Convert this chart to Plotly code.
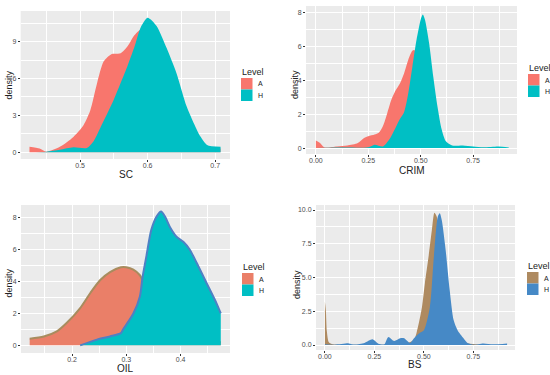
import plotly.graph_objects as go

# ---------------- data ----------------
levels = ["A", "H"]

sc_a_x = [0.425, 0.44, 0.45, 0.47, 0.49, 0.505, 0.515, 0.525, 0.535, 0.547, 0.56, 0.57, 0.58, 0.587, 0.6, 0.62, 0.64, 0.66, 0.68, 0.7, 0.708]
sc_a_y = [0.45, 0.3, 0.05, 0.45, 1.25, 2.2, 3.4, 5.6, 7.4, 8.0, 8.05, 8.6, 9.5, 9.9, 10.2, 9.0, 5.5, 2.5, 0.8, 0.3, 0.3]
sc_h_x = [0.425, 0.45, 0.47, 0.49, 0.51, 0.52, 0.53, 0.55, 0.57, 0.58, 0.59, 0.6, 0.613, 0.628, 0.643, 0.658, 0.678, 0.688, 0.708]
sc_h_y = [0.0, 0.05, 0.2, 0.4, 0.35, 0.9, 2.0, 4.3, 7.0, 8.5, 10.2, 10.95, 10.3, 8.5, 6.4, 3.7, 1.3, 0.6, 0.45]

crim_a_x = [0.0, 0.02, 0.04, 0.1, 0.15, 0.2, 0.23, 0.25, 0.28, 0.3, 0.32, 0.34, 0.36, 0.38, 0.4, 0.42, 0.44, 0.46, 0.47, 0.48, 0.5, 0.55, 0.6, 0.7, 0.8, 0.9]
crim_a_y = [0.45, 0.3, 0.05, 0.1, 0.15, 0.3, 0.6, 0.7, 0.8, 0.9, 1.3, 2.05, 2.85, 3.4, 3.8, 4.4, 5.2, 5.75, 5.8, 5.0, 3.0, 0.5, 0.05, 0.02, 0.02, 0.02]
crim_h_x = [0.0, 0.1, 0.25, 0.28, 0.32, 0.35, 0.38, 0.4, 0.42, 0.44, 0.46, 0.48, 0.5, 0.51, 0.52, 0.54, 0.56, 0.58, 0.6, 0.62, 0.65, 0.7, 0.75, 0.8, 0.87, 0.92]
crim_h_y = [0.0, 0.03, 0.05, 0.2, 0.1, 0.5, 1.2, 1.7, 2.1, 3.2, 4.8, 6.4, 7.6, 7.9, 7.6, 6.2, 4.2, 2.45, 1.1, 0.4, 0.15, 0.15, 0.1, 0.05, 0.1, 0.04]

oil_a_x = [0.122, 0.148, 0.172, 0.19, 0.215, 0.234, 0.252, 0.27, 0.29, 0.3, 0.313, 0.325, 0.33, 0.35, 0.38, 0.42, 0.474]
oil_a_y = [0.42, 0.56, 0.88, 1.4, 2.34, 3.3, 4.1, 4.6, 4.9, 4.9, 4.75, 4.4, 4.1, 3.0, 1.5, 0.5, 0.2]
oil_h_x = [0.215, 0.246, 0.27, 0.29, 0.294, 0.3, 0.313, 0.325, 0.33, 0.337, 0.346, 0.356, 0.364, 0.371, 0.38, 0.393, 0.405, 0.417, 0.43, 0.448, 0.466, 0.474]
oil_h_y = [0.0, 0.36, 0.56, 0.77, 1.0, 1.3, 2.0, 3.07, 4.3, 5.6, 7.25, 8.1, 8.4, 8.1, 7.45, 6.8, 6.5, 6.0, 5.15, 3.9, 2.65, 2.0]

bs_a_x = [0.0, 0.005, 0.01, 0.02, 0.04, 0.1, 0.2, 0.3, 0.4, 0.45, 0.47, 0.49, 0.505, 0.523, 0.54, 0.553, 0.565, 0.58, 0.6, 0.62, 0.65, 0.7, 0.8, 0.92]
bs_a_y = [3.2, 2.5, 1.0, 0.2, 0.05, 0.02, 0.02, 0.02, 0.05, 0.4, 1.35, 2.8, 4.6, 6.5, 8.5, 9.8, 9.5, 7.8, 5.0, 2.5, 0.8, 0.2, 0.02, 0.02]
bs_h_x = [0.0, 0.05, 0.12, 0.15, 0.2, 0.24, 0.27, 0.3, 0.32, 0.35, 0.38, 0.4, 0.43, 0.45, 0.48, 0.5, 0.53, 0.55, 0.57, 0.58, 0.59, 0.61, 0.63, 0.65, 0.67, 0.7, 0.72, 0.75, 0.8, 0.85, 0.92]
bs_h_y = [0.05, 0.02, 0.12, 0.03, 0.15, 0.42, 0.1, 0.05, 0.6, 0.3, 0.5, 0.5, 0.15, 0.5, 0.9, 1.1, 2.8, 6.5, 9.5, 9.75, 9.25, 7.0, 4.1, 1.85, 1.1, 0.5, 0.15, 0.02, 0.12, 0.05, 0.12]

x_titles = ["SC", "CRIM", "OIL", "BS"]
y_title = "density"
legend_title = "Level"

# ---------------- figure ----------------
W, H = 550, 375
fig = go.Figure()


def px(x):
    return x / W


def py(y):
    return 1 - y / H


panels = [
    dict(ax="", a=(sc_a_x, sc_a_y), h=(sc_h_x, sc_h_y),
         ca="#F8766D", ch="#00BFC4", la=None, lh=None,
         xpx=(20.7, 230), ypx=(11, 159), xr=[0.412, 0.722], yr=[-0.55, 11.5],
         xd=(0.5, 0.1, ".1f"), yd=(0, 3, "d"),
         xt=(126, 174), yt=(8.5, 85), leg=(241, 72)),
    dict(ax="2", a=(crim_a_x, crim_a_y), h=(crim_h_x, crim_h_y),
         ca="#F8766D", ch="#00BFC4", la=None, lh=None,
         xpx=(306, 517), ypx=(6, 154), xr=[-0.047, 0.959], yr=[-0.35, 8.4],
         xd=(0, 0.25, ".2f"), yd=(0, 2, "d"),
         xt=(411.7, 170), yt=(295, 85), leg=(528, 68)),
    dict(ax="3", a=(oil_a_x, oil_a_y), h=(oil_h_x, oil_h_y),
         ca="#EA7F68", ch="#00BFC4", la="#A88C5E", lh="#4F80C4",
         xpx=(21, 230), ypx=(205, 353), xr=[0.106, 0.491], yr=[-0.48, 8.81],
         xd=(0.2, 0.1, ".1f"), yd=(0, 2, "d"),
         xt=(125, 368.5), yt=(8.5, 283), leg=(242, 267)),
    dict(ax="4", a=(bs_a_x, bs_a_y), h=(bs_h_x, bs_h_y),
         ca="#AE8A60", ch="#4689C6", la=None, lh=None,
         xpx=(316, 515), ypx=(205, 350), xr=[-0.045, 0.96], yr=[-0.37, 10.37],
         xd=(0, 0.25, ".2f"), yd=(0, 2.5, ".1f"),
         xt=(415, 364), yt=(297, 285), leg=(527, 266)),
]

layout = {}
annotations = []
shapes = []
for i, p in enumerate(panels):
    xa = "x" + p["ax"]
    ya = "y" + p["ax"]
    for (xs, ys), col, lcol in [(p["a"], p["ca"], p["la"]), (p["h"], p["ch"], p["lh"])]:
        fig.add_trace(go.Scatter(
            x=xs, y=ys, xaxis=xa, yaxis=ya, mode="lines",
            line=dict(shape="spline", smoothing=0.7, width=2 if lcol else 0, color=lcol or col),
            fill="tozeroy", fillcolor=col, showlegend=False, hoverinfo="skip"))
    x0, x1 = p["xpx"]
    y0, y1 = p["ypx"]
    t0, dt, fmt = p["xd"]
    layout["xaxis" + p["ax"]] = dict(
        domain=[px(x0), px(x1)], range=p["xr"], anchor=ya,
        tickmode="linear", tick0=t0, dtick=dt, tickformat=fmt,
        ticks="outside", ticklen=2, tickcolor="#333333", ticklabelstandoff=-2,
        tickfont=dict(size=7, color="#4d4d4d"), showgrid=True, gridcolor="white", gridwidth=1,
        minor=dict(dtick=dt / 2, tick0=t0, showgrid=True, gridcolor="white", gridwidth=0.5),
        zeroline=False, showline=False)
    t0, dt, fmt = p["yd"]
    layout["yaxis" + p["ax"]] = dict(
        domain=[py(y1), py(y0)], range=p["yr"], anchor=xa,
        tickmode="linear", tick0=t0, dtick=dt, tickformat=fmt,
        ticks="outside", ticklen=2, tickcolor="#333333",
        tickfont=dict(size=7, color="#4d4d4d"), showgrid=True, gridcolor="white", gridwidth=1,
        minor=dict(dtick=dt / 2, tick0=t0, showgrid=True, gridcolor="white", gridwidth=0.5),
        zeroline=False, showline=False)
    # axis titles
    tx, ty = p["xt"]
    annotations.append(dict(text=x_titles[i], x=px(tx), y=py(ty), xref="paper", yref="paper",
                            showarrow=False, xanchor="center", yanchor="middle",
                            font=dict(size=10, color="#222222")))
    tx, ty = p["yt"]
    annotations.append(dict(text=y_title, x=px(tx), y=py(ty), xref="paper", yref="paper",
                            showarrow=False, xanchor="center", yanchor="middle", textangle=-90,
                            font=dict(size=9, color="#222222")))
    # legend
    lx, ly = p["leg"]
    annotations.append(dict(text=legend_title, x=px(lx - 1), y=py(ly), xref="paper", yref="paper",
                            showarrow=False, xanchor="left", yanchor="middle",
                            font=dict(size=9, color="#222222")))
    for k, (lvl, col) in enumerate(zip(levels, [p["ca"], p["ch"]])):
        top = ly + 6 + k * 11.5
        shapes.append(dict(type="rect", xref="paper", yref="paper",
                           x0=px(lx), x1=px(lx + 11.5), y0=py(top + 11.5), y1=py(top),
                           fillcolor=col, line=dict(width=0)))
        annotations.append(dict(text=lvl, x=px(lx + 15), y=py(top + 6), xref="paper", yref="paper",
                                showarrow=False, xanchor="left", yanchor="middle",
                                font=dict(size=7, color="#222222")))

fig.update_layout(
    width=W, height=H, margin=dict(l=0, r=0, t=0, b=0),
    paper_bgcolor="white", plot_bgcolor="#EBEBEB",
    font=dict(family="Liberation Sans, Arial, sans-serif"),
    showlegend=False, annotations=annotations, shapes=shapes,
    **layout)

fig.write_html("out.html", config={"displayModeBar": False},
               post_script="document.body.style.margin='0px';")
